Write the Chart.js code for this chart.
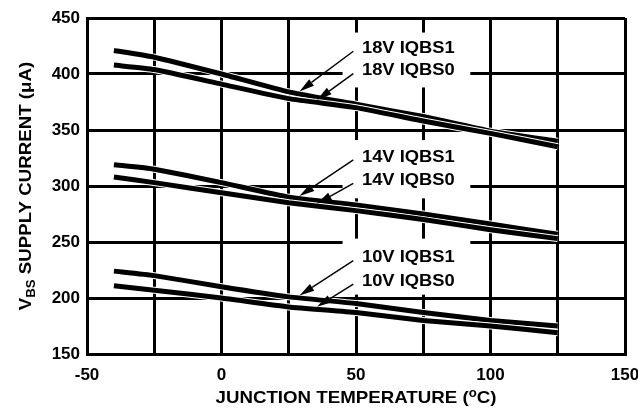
<!DOCTYPE html>
<html>
<head>
<meta charset="utf-8">
<script src="https://cdn.jsdelivr.net/npm/chart.js@4.4.1/dist/chart.umd.min.js"></script>
<style>
  html, body { margin: 0; padding: 0; background: #fff; }
  canvas { display: block; }
</style>
</head>
<body>
<canvas id="myChart" width="638" height="411"></canvas>
<script>
// junction temperature (°C)
const temps = [-40, -25, 0, 25, 50, 75, 100, 125];

// VBS supply current (uA)
const iqbs1_18V = [421, 415, 400, 384, 373, 362, 349, 340];
const iqbs0_18V = [408, 404, 391, 378, 370, 358, 347, 335];
const iqbs1_14V = [319, 315, 303, 290, 283, 275, 266, 257];
const iqbs0_14V = [308, 303, 294, 285, 278, 270, 261, 253];
const iqbs1_10V = [224, 220, 210, 201, 195, 187, 180, 175];
const iqbs0_10V = [211, 207, 200, 192, 187, 180, 175, 169];

const seriesNames = ['18V IQBS1', '18V IQBS0', '14V IQBS1', '14V IQBS0', '10V IQBS1', '10V IQBS0'];
const seriesData = [iqbs1_18V, iqbs0_18V, iqbs1_14V, iqbs0_14V, iqbs1_10V, iqbs0_10V];

const xLabelTicks = [-50, 0, 50, 100, 150];

const FONT = "'Liberation Sans', Arial, Helvetica, sans-serif";

// build datasets: white halo under each black line, drawn in sequence
const drawSeq = [];
seriesData.forEach((vals, i) => {
  const pts = temps.map((t, k) => ({ x: t, y: vals[k] }));
  drawSeq.push({ label: seriesNames[i] + ' halo', data: pts, borderColor: '#fff', borderWidth: 7 });
  drawSeq.push({ label: seriesNames[i], data: pts, borderColor: '#000', borderWidth: 5 });
});
const datasets = drawSeq.map((d, i) => Object.assign(d, {
  order: drawSeq.length - i,
  pointRadius: 0,
  tension: 0.15,
  fill: false,
  borderCapStyle: 'butt'
}));

function valueAt(vals, x) {
  for (let i = 0; i < temps.length - 1; i++) {
    if (x >= temps[i] && x <= temps[i + 1]) {
      const f = (x - temps[i]) / (temps[i + 1] - temps[i]);
      return vals[i] + f * (vals[i + 1] - vals[i]);
    }
  }
  return vals[vals.length - 1];
}

// label groups: text y positions (data units) and box extents
const groups = [
  { names: [0, 1], textY: [423, 403], box: [45, 92.5, 437, 388] },
  { names: [2, 3], textY: [326, 305], box: [45, 92.5, 341, 289] },
  { names: [4, 5], textY: [236, 215], box: [45, 92.5, 253, 203] }
];
const tipX = [29, 35.5];

function drawArrow(ctx, x0, y0, x1, y1) {
  const ang = Math.atan2(y1 - y0, x1 - x0);
  const len = 15, hw = 4;
  const bx = x1 - len * Math.cos(ang), by = y1 - len * Math.sin(ang);
  ctx.beginPath();
  ctx.moveTo(x0, y0);
  ctx.lineTo(bx, by);
  ctx.lineWidth = 1.4;
  ctx.strokeStyle = '#000';
  ctx.stroke();
  ctx.beginPath();
  ctx.moveTo(x1, y1);
  ctx.lineTo(bx + hw * Math.sin(ang), by - hw * Math.cos(ang));
  ctx.lineTo(bx - hw * Math.sin(ang), by + hw * Math.cos(ang));
  ctx.closePath();
  ctx.fillStyle = '#000';
  ctx.fill();
}

function stretchedText(ctx, text, x, y, sx) {
  ctx.save();
  ctx.translate(x, y);
  ctx.scale(sx, 1);
  ctx.fillText(text, 0, 0);
  ctx.restore();
}

const labelPlugin = {
  id: 'labels',
  beforeDatasetsDraw(chart) {
    const { ctx, scales: { x, y } } = chart;
    ctx.save();
    ctx.fillStyle = '#fff';
    groups.forEach(g => {
      const l = x.getPixelForValue(g.box[0]), r = x.getPixelForValue(g.box[1]);
      const t = y.getPixelForValue(g.box[2]), b = y.getPixelForValue(g.box[3]);
      ctx.fillRect(l, t, r - l, b - t);
    });
    ctx.restore();
  },
  afterDatasetsDraw(chart) {
    const { ctx, scales: { x, y } } = chart;
    ctx.save();
    groups.forEach(g => {
      g.names.forEach((si, k) => {
        const ty = y.getPixelForValue(g.textY[k]);
        ctx.font = 'bold 17px ' + FONT;
        ctx.fillStyle = '#000';
        ctx.textAlign = 'left';
        ctx.textBaseline = 'middle';
        stretchedText(ctx, seriesNames[si], x.getPixelForValue(52.2), ty, 1.08);
        const px = x.getPixelForValue(tipX[k]);
        const py = y.getPixelForValue(valueAt(seriesData[si], tipX[k])) - 2.5;
        drawArrow(ctx, x.getPixelForValue(49), ty + 3, px, py);
      });
    });
    ctx.restore();
  },
  afterDraw(chart) {
    const { ctx, chartArea } = chart;
    ctx.save();
    ctx.fillStyle = '#000';
    ctx.textBaseline = 'alphabetic';
    ctx.textAlign = 'left';
    const sx = 1.1;

    // x axis title with superscript o
    const big = 'bold 17px ' + FONT, small = 'bold 12px ' + FONT;
    ctx.font = big;
    const p1 = 'JUNCTION TEMPERATURE (', p3 = 'C)';
    const w1 = ctx.measureText(p1).width, w3 = ctx.measureText(p3).width;
    ctx.font = small;
    const w2 = ctx.measureText('o').width;
    const total = (w1 + w2 + w3) * sx;
    let cx = (chartArea.left + chartArea.right) / 2 - total / 2;
    const base = 403;
    ctx.font = big;
    stretchedText(ctx, p1, cx, base, sx);
    ctx.font = small;
    stretchedText(ctx, 'o', cx + w1 * sx, base - 6, sx);
    ctx.font = big;
    stretchedText(ctx, p3, cx + (w1 + w2) * sx, base, sx);

    // y axis title with subscript BS, rotated
    ctx.font = big;
    const q1 = 'V', q3 = ' SUPPLY CURRENT (\u03BCA)';
    const v1 = ctx.measureText(q1).width, v3 = ctx.measureText(q3).width;
    ctx.font = small;
    const v2 = ctx.measureText('BS').width;
    const ytot = (v1 + v2 + v3) * sx;
    ctx.translate(31, (chartArea.top + chartArea.bottom) / 2);
    ctx.rotate(-Math.PI / 2);
    const sy = -ytot / 2;
    ctx.font = big;
    stretchedText(ctx, q1, sy, 0, sx);
    ctx.font = small;
    stretchedText(ctx, 'BS', sy + v1 * sx, 4, sx);
    ctx.font = big;
    stretchedText(ctx, q3, sy + (v1 + v2) * sx, 0, sx);
    ctx.restore();
  }
};

const ctx = document.getElementById('myChart');
new Chart(ctx, {
  type: 'line',
  data: { datasets: datasets },
  options: {
    responsive: false,
    animation: false,
    devicePixelRatio: 1,
    layout: { padding: { top: 18, right: 13, left: 0, bottom: 0 } },
    plugins: {
      legend: { display: false },
      tooltip: { enabled: false }
    },
    scales: {
      x: {
        type: 'linear',
        min: -50,
        max: 150,
        afterFit(s) { s.height = 57; s.paddingLeft = 0; s.paddingRight = 0; },
        ticks: {
          stepSize: 25,
          autoSkip: false,
          maxRotation: 0,
          padding: 11,
          color: '#000',
          font: { family: FONT, size: 17, weight: 'bold' },
          callback: v => xLabelTicks.includes(v) ? String(v) : ''
        },
        grid: { color: '#000', lineWidth: 3, drawTicks: false },
        border: { color: '#000', width: 3 }
      },
      y: {
        min: 150,
        max: 450,
        afterFit(s) { s.width = 87; s.paddingTop = 0; s.paddingBottom = 0; },
        ticks: {
          stepSize: 50,
          padding: 7,
          color: '#000',
          font: { family: FONT, size: 17, weight: 'bold' }
        },
        grid: { color: '#000', lineWidth: 3, drawTicks: false },
        border: { color: '#000', width: 3 }
      }
    }
  },
  plugins: [labelPlugin]
});
</script>
</body>
</html>
